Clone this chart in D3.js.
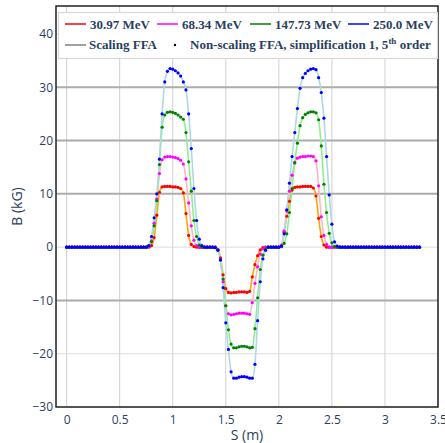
<!DOCTYPE html>
<html><head><meta charset="utf-8">
<script src="https://cdn.jsdelivr.net/npm/d3@7"></script>
<style>body{margin:0;background:#fff}svg{display:block}</style>
</head><body>
<svg id="c" width="445" height="443"></svg>
<script>
const energies = ["30.97 MeV","68.34 MeV","147.73 MeV","250.0 MeV"];
const dotColors = ["#ff0000","#ff00ff","#008000","#0000ff"];
const lineColors = ["#ffa500","#ffb6c1","#90ee90","#add8e6"];

const S = [
0,0.025,0.05,0.075,0.1,0.125,0.15,0.175,0.2,0.225,
0.25,0.275,0.3,0.325,0.35,0.375,0.4,0.425,0.45,0.475,
0.5,0.525,0.55,0.575,0.6,0.625,0.65,0.675,0.7,0.725,
0.75,0.775,0.8,0.825,0.85,0.875,0.9,0.925,0.95,0.975,
1,1.025,1.05,1.075,1.1,1.125,1.15,1.175,1.2,1.225,
1.25,1.275,1.3,1.325,1.35,1.375,1.4,1.425,1.45,1.475,
1.5,1.525,1.55,1.575,1.6,1.625,1.65,1.675,1.7,1.725,
1.75,1.775,1.8,1.825,1.85,1.875,1.9,1.925,1.95,1.975,
2,2.025,2.05,2.075,2.1,2.125,2.15,2.175,2.2,2.225,
2.25,2.275,2.3,2.325,2.35,2.375,2.4,2.425,2.45,2.475,
2.5,2.525,2.55,2.575,2.6,2.625,2.65,2.675,2.7,2.725,
2.75,2.775,2.8,2.825,2.85,2.875,2.9,2.925,2.95,2.975,
3,3.025,3.05,3.075,3.1,3.125,3.15,3.175,3.2,3.225,
3.25,3.275,3.3,3.325];

const B_30 = [
0,0,0,0,0,0,0,0,0,0,
0,0,0,0,0,0,0,0,0,0,
0,0,0,0,0,0,0,0,0,0,
0,0,0.3,1.8,6.0,10.3,11.3,11.4,11.4,11.4,
11.3,11.3,11.2,11.0,10.2,6.3,2.2,0.5,0.1,0,
0,0,0,0,0,0,0,-0.4,-2.0,-5.2,
-7.8,-8.5,-8.6,-8.5,-8.5,-8.4,-8.4,-8.4,-8.5,-8.3,
-5.6,-3.3,-1.6,-0.5,-0.1,0,0,0,0,0,
0,0.1,2.8,5.8,8.6,10.7,11.2,11.3,11.3,11.4,
11.4,11.4,11.4,11.1,9.6,5.4,2.0,0.4,0,0,
0,0,0,0,0,0,0,0,0,0,
0,0,0,0,0,0,0,0,0,0,
0,0,0,0,0,0,0,0,0,0,
0,0,0,0];

const B_68 = [
0,0,0,0,0,0,0,0,0,0,
0,0,0,0,0,0,0,0,0,0,
0,0,0,0,0,0,0,0,0,0,
0,0.1,1.2,4.5,9.0,13.8,16.4,16.9,17.0,17.0,
16.9,16.8,16.6,16.3,15.6,12.8,8.3,4.0,1.3,0.3,
0,0,0,0,0,0,0,-0.4,-2.2,-6.5,
-11.0,-12.5,-12.7,-12.6,-12.5,-12.4,-12.4,-12.4,-12.5,-12.6,
-10.4,-6.8,-3.7,-1.3,-0.3,0,0,0,0,0,
0,0.4,3.0,6.8,10.5,13.5,15.9,16.7,16.9,17.0,
17.0,17.1,17.1,17.0,16.2,11.5,5.7,2.2,0.5,0,
0,0,0,0,0,0,0,0,0,0,
0,0,0,0,0,0,0,0,0,0,
0,0,0,0,0,0,0,0,0,0,
0,0,0,0];

const B_147 = [
0,0,0,0,0,0,0,0,0,0,
0,0,0,0,0,0,0,0,0,0,
0,0,0,0,0,0,0,0,0,0,
0,0.2,1.0,4.0,8.7,15.5,22.5,24.8,25.3,25.4,
25.3,25.1,24.8,24.4,24.0,21.5,16.0,10.5,5.0,2.0,
0.4,0,0,0,0,0,0,-0.5,-2.4,-6.0,
-11.0,-15.5,-18.2,-18.9,-18.9,-18.7,-18.6,-18.6,-18.7,-18.9,
-18.8,-15.3,-9.5,-4.2,-1.5,-0.3,0,0,0,0,
0,0.1,0.7,2.5,6.5,11.0,15.8,19.5,22.8,24.3,
24.9,25.2,25.4,25.4,25.2,23.9,19.0,11.8,6.5,2.6,
0.8,0.1,0,0,0,0,0,0,0,0,
0,0,0,0,0,0,0,0,0,0,
0,0,0,0,0,0,0,0,0,0,
0,0,0,0];

const B_250 = [
0,0,0,0,0,0,0,0,0,0,
0,0,0,0,0,0,0,0,0,0,
0,0,0,0,0,0,0,0,0,0,
0,0.3,2.0,5.5,10.0,16.5,25.0,31.0,33.0,33.5,
33.4,33.1,32.7,32.1,31.0,29.5,25.0,18.5,11.0,5.0,
1.5,0.3,0,0,0,0,-0.1,-0.6,-2.4,-7.6,
-14.2,-19.2,-23.4,-24.6,-24.6,-24.4,-24.3,-24.3,-24.4,-24.6,
-24.6,-22.0,-13.8,-6.5,-2.2,-0.6,0,0,0,0,
0,0.2,2.5,7.0,12.0,17.0,21.5,26.0,29.8,31.8,
32.6,33.1,33.4,33.5,33.3,31.8,29.0,24.2,17.0,9.8,
4.3,1.0,0.2,0,0,0,0,0,0,0,
0,0,0,0,0,0,0,0,0,0,
0,0,0,0,0,0,0,0,0,0,
0,0,0,0];

const seriesB = [B_30, B_68, B_147, B_250];

const xTicks = [0,0.5,1,1.5,2,2.5,3,3.5];
const xTickLabels = ["0","0.5","1","1.5","2","2.5","3","3.5"];
const yTicks = [-30,-20,-10,0,10,20,30,40];
const yTickLabels = ["\u221230","\u221220","\u221210","0","10","20","30","40"];
const yMajorGrid = [-10,10,20,30];

const legendRow2 = ["Scaling FFA", "Non-scaling FFA, simplification 1, 5"];

const svg = d3.select("#c");
const L = 56, R = 438, T = 6, Bm = 407;
const x = d3.scaleLinear().domain([-0.1, 3.5]).range([L, R]);
const y = d3.scaleLinear().domain([-30, 45.25]).range([Bm, T]);

const txt = "#2a3f5f";
const sans = "'Open Sans', 'Noto Sans', sans-serif";

// grid
const g = svg.append("g");
g.selectAll(".vg").data(xTicks).enter().append("line")
  .attr("x1", d => x(d)).attr("x2", d => x(d)).attr("y1", T).attr("y2", Bm)
  .attr("stroke", "#d0d0d0").attr("stroke-width", 1);
g.selectAll(".hg").data(yTicks.filter(v => yMajorGrid.indexOf(v) < 0)).enter().append("line")
  .attr("x1", L).attr("x2", R).attr("y1", d => y(d)).attr("y2", d => y(d))
  .attr("stroke", "#dcdcdc").attr("stroke-width", 1);
g.selectAll(".hg2").data(yMajorGrid).enter().append("line")
  .attr("x1", L).attr("x2", R).attr("y1", d => y(d)).attr("y2", d => y(d))
  .attr("stroke", "#acacac").attr("stroke-width", 2);

// axes labels via d3 axes
const xAxis = d3.axisBottom(x).tickValues(xTicks).tickFormat((d, i) => xTickLabels[i]).tickSize(0).tickPadding(8);
const xa = svg.append("g").attr("transform", `translate(0,${Bm})`).call(xAxis);
xa.select(".domain").remove();
xa.selectAll("text").attr("fill", txt).style("font-family", sans).style("font-size", "12px");

const yAxis = d3.axisLeft(y).tickValues(yTicks).tickFormat((d, i) => yTickLabels[i]).tickSize(0).tickPadding(3);
const ya = svg.append("g").attr("transform", `translate(${L},0)`).call(yAxis);
ya.select(".domain").remove();
ya.selectAll("text").attr("fill", txt).style("font-family", sans).style("font-size", "12px");

// axis titles
svg.append("text").attr("x", (L + R) / 2).attr("y", 440).attr("text-anchor", "middle")
  .attr("fill", txt).style("font-family", sans).style("font-size", "14px").text("S (m)");
svg.append("text").attr("transform", `translate(22,${(T + Bm) / 2}) rotate(-90)`).attr("text-anchor", "middle")
  .attr("fill", txt).style("font-family", sans).style("font-size", "14px").text("B (kG)");

// clip
svg.append("clipPath").attr("id", "clip").append("rect").attr("x", L).attr("y", T).attr("width", R - L).attr("height", Bm - T);
const plot = svg.append("g").attr("clip-path", "url(#clip)");

const line = d3.line().x((d, i) => x(S[i])).y(d => y(d)).curve(d3.curveMonotoneX);
seriesB.forEach((arr, k) => {
  plot.append("path").datum(arr).attr("d", line).attr("fill", "none")
    .attr("stroke", lineColors[k]).attr("stroke-width", 1.6);
});
seriesB.forEach((arr, k) => {
  plot.append("g").selectAll("circle").data(arr).enter().append("circle")
    .attr("cx", (d, i) => x(S[i])).attr("cy", d => y(d)).attr("r", 1.6)
    .attr("fill", dotColors[k]);
});

// frame
svg.append("rect").attr("x", L).attr("y", T).attr("width", R - L).attr("height", Bm - T)
  .attr("fill", "none").attr("stroke", "#222").attr("stroke-width", 1.5);

// legend
const lg = svg.append("g");
lg.append("rect").attr("x", 58.5).attr("y", 12.5).attr("width", 379).attr("height", 46)
  .attr("fill", "#fff").attr("stroke", "#d8d8d8").attr("stroke-width", 1.2);
const serif = "'Liberation Serif', 'Times New Roman', serif";
const itemX = [65, 157, 250, 348];
energies.forEach((e, k) => {
  lg.append("line").attr("x1", itemX[k]).attr("x2", itemX[k] + 21).attr("y1", 24).attr("y2", 24)
    .attr("stroke", dotColors[k]).attr("stroke-width", 1.5);
  lg.append("text").attr("x", itemX[k] + 25).attr("y", 28.5).attr("fill", txt)
    .style("font-family", serif).style("font-weight", "bold").style("font-size", "13px").text(e);
});
lg.append("line").attr("x1", 65).attr("x2", 86).attr("y1", 45).attr("y2", 45)
  .attr("stroke", "#808080").attr("stroke-width", 1.5);
lg.append("text").attr("x", 89).attr("y", 49).attr("fill", txt)
  .style("font-family", serif).style("font-weight", "bold").style("font-size", "13px").text(legendRow2[0]);
lg.append("circle").attr("cx", 175).attr("cy", 45).attr("r", 1.2).attr("fill", "#000");
const t2 = lg.append("text").attr("x", 190).attr("y", 49).attr("fill", txt)
  .style("font-family", serif).style("font-weight", "bold").style("font-size", "13px");
t2.append("tspan").text(legendRow2[1]);
t2.append("tspan").attr("dy", -5).style("font-size", "9px").text("th");
t2.append("tspan").attr("dy", 5).text(" order");
</script>
</body></html>
